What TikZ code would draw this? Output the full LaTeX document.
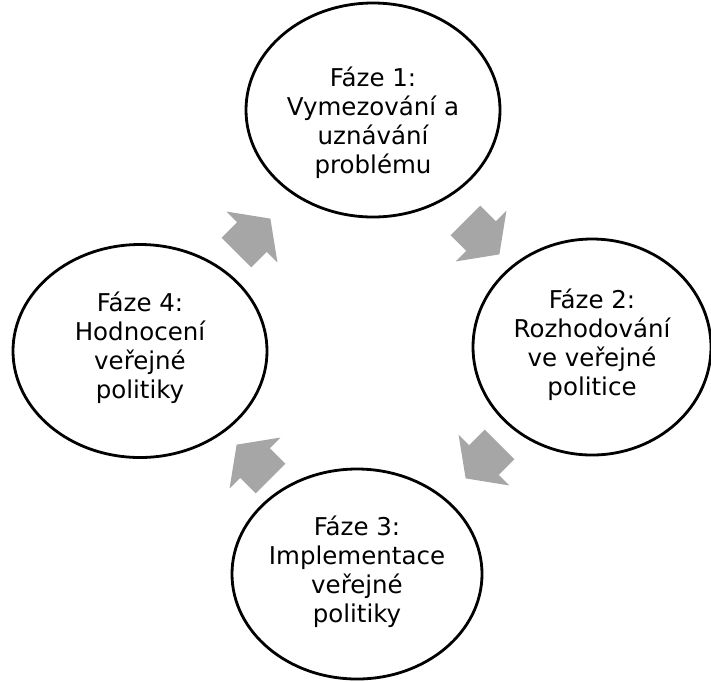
\documentclass[tikz,border=0pt]{standalone}
\usepackage{fontspec}
\setmainfont{DejaVu Sans}
\usetikzlibrary{shapes.geometric}
\definecolor{arrowgray}{HTML}{A6A6A6}
\tikzset{
  phase/.style={draw=black, line width=2.8pt, ellipse, inner sep=0pt},
  phasetext/.style={align=center, font=\fontsize{24.5}{29}\selectfont, inner sep=0pt},
  blockarrow/.pic={\fill[arrowgray] (-22,-21) -- (0,-21) -- (0,-36) -- (26,0) -- (0,36) -- (0,21) -- (-22,21) -- cycle;}
}
\begin{document}
\begin{tikzpicture}[x=1pt,y=-1pt]
\useasboundingbox (0,0) rectangle (711,681);
\node[phase, minimum width=254pt, minimum height=214pt] (p1) at (373,110) {};
\node[phase, minimum width=238pt, minimum height=216pt] (p2) at (592,347) {};
\node[phase, minimum width=250pt, minimum height=210pt] (p3) at (357,574) {};
\node[phase, minimum width=254pt, minimum height=213pt] (p4) at (140,351) {};
\node[phasetext] (t1) at (373,123) {Fáze 1:\\Vymezování a\\uznávání\\problému};
\node[phasetext] (t2) at (592,345) {Fáze 2:\\Rozhodování\\ve veřejné\\politice};
\node[phasetext] (t3) at (357,572) {Fáze 3:\\Implementace\\veřejné\\politiky};
\node[phasetext] (t4) at (140,348) {Fáze 4:\\Hodnocení\\veřejné\\politiky};
\pic[rotate=45] at (252,237) {blockarrow};
\pic[rotate=-45] at (481,236) {blockarrow};
\pic[rotate=-135] at (484,460) {blockarrow};
\pic[rotate=135] at (255,463) {blockarrow};
\end{tikzpicture}
\end{document}
